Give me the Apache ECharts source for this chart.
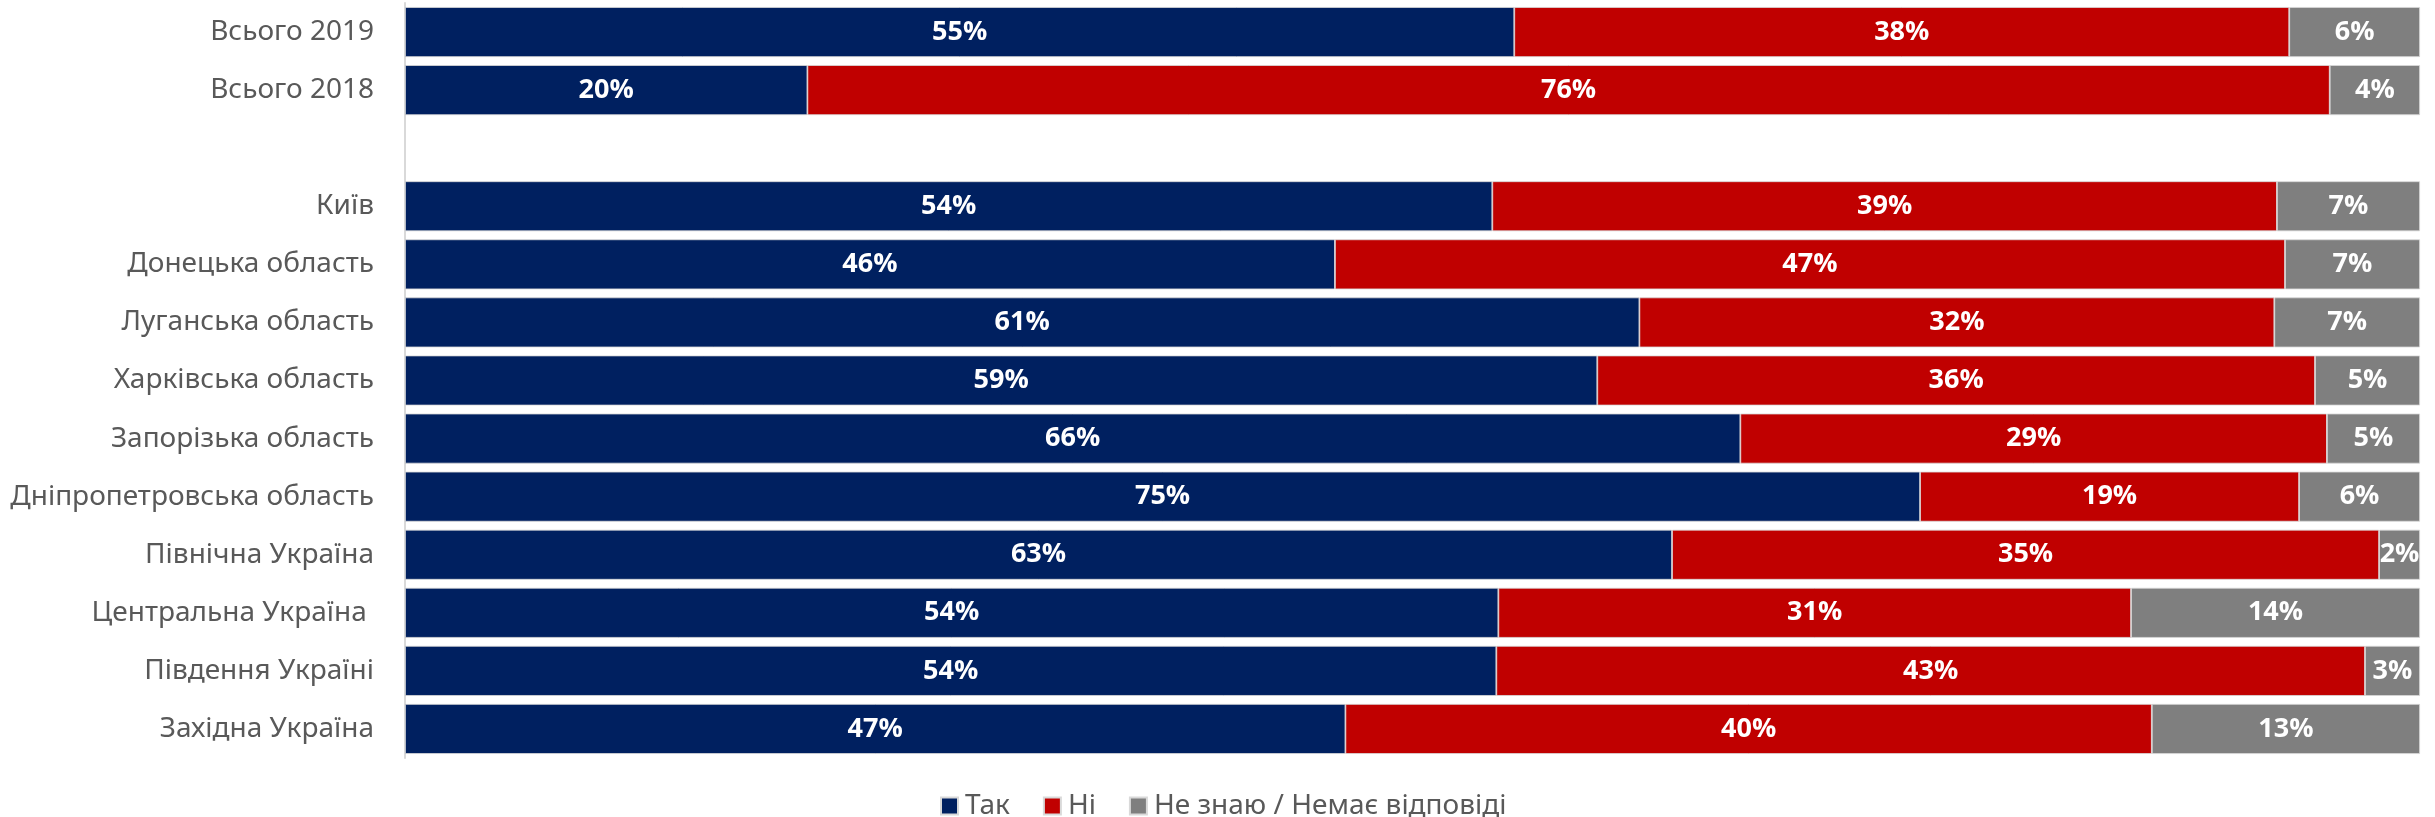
<!DOCTYPE html>
<html>
<head>
<meta charset="utf-8">
<script src="https://cdn.jsdelivr.net/npm/echarts@6/dist/echarts.min.js"></script>
<style>
html,body{margin:0;padding:0;background:#fff;}
#chart{width:2435px;height:817px;}
</style>
</head>
<body>
<div id="chart"></div>
<script>
var categories = ['Всього 2019','Всього 2018','','Київ','Донецька область','Луганська область','Харківська область','Запорізька область','Дніпропетровська область','Північна Україна','Центральна Україна ','Південня Україні','Західна Україна'];
var seriesNames = ['Так','Ні','Не знаю / Немає відповіді'];
var yesValues = [55.05, 19.97, null, 53.96, 46.15, 61.26, 59.17, 66.27, 75.19, 62.88, 54.26, 54.16, 46.67];
var noValues = [38.46, 75.55, null, 38.94, 47.15, 31.51, 35.62, 29.11, 18.81, 35.09, 31.40, 43.11, 40.02];
var dkValues = [6.49, 4.48, null, 7.10, 6.70, 7.23, 5.21, 4.62, 6.00, 2.03, 14.34, 2.73, 13.31];
var colors = ['#002060','#C00000','#7F7F7F'];

var chart = echarts.init(document.getElementById('chart'));
function mk(name, data, color){
  return {
    name: name, type: 'bar', stack: 'total', data: data,
    barWidth: 50,
    itemStyle: {color: color, borderColor: '#D9D9D9', borderWidth: 0.8},
    label: {
      show: true, position: 'inside', color: '#fff',
      fontFamily: '"Open Sans"', fontWeight: 'bold', fontSize: 27,
      formatter: function(p){ return p.value == null ? '' : Math.round(p.value) + '%'; }
    }
  };
}
chart.setOption({
  animation: false,
  grid: {left: 405, right: 15, top: 3, bottom: 59},
  legend: {
    data: seriesNames, left: 935, top: 787, icon: 'rect',
    itemWidth: 17, itemHeight: 17, itemGap: 33,
    textStyle: {fontFamily: '"Noto Sans"', fontSize: 28, color: '#595959', padding: [0,0,0,2]}
  },
  xAxis: {type: 'value', min: 0, max: 100, show: false},
  yAxis: {
    type: 'category', data: categories, inverse: true,
    axisLine: {show: true, lineStyle: {color: '#D9D9D9', width: 2}},
    axisTick: {show: false},
    axisLabel: {fontFamily: '"Noto Sans"', fontSize: 28, color: '#595959', margin: 31}
  },
  series: [mk(seriesNames[0], yesValues, colors[0]), mk(seriesNames[1], noValues, colors[1]), mk(seriesNames[2], dkValues, colors[2])]
});
</script>
</body>
</html>
